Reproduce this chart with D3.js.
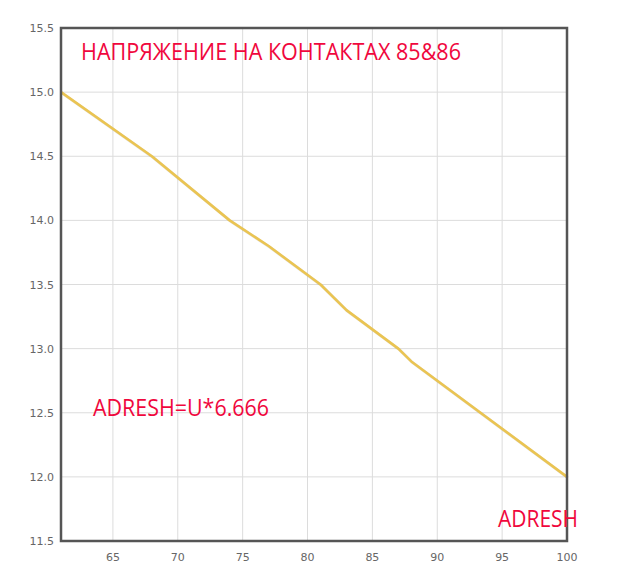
<!DOCTYPE html>
<html>
<head>
<meta charset="utf-8">
<script src="https://cdn.jsdelivr.net/npm/d3@7"></script>
<style>
  body { margin: 0; background: #fff; }
  svg { display: block; }
</style>
</head>
<body>
<svg id="chart" width="620" height="587"></svg>
<script>
// ADRESH values (x) and voltage (y)
var adresh = [61, 68, 74, 77, 81, 83, 87, 88, 100];
var voltage = [15.0, 14.5, 14.0, 13.8, 13.5, 13.3, 13.0, 12.9, 12.0];
var xTicks = [65, 70, 75, 80, 85, 90, 95, 100];
var yTicks = [11.5, 12.0, 12.5, 13.0, 13.5, 14.0, 14.5, 15.0, 15.5];
var title = "НАПРЯЖЕНИЕ НА КОНТАКТАХ 85&86";
var formula = "ADRESH=U*6.666";
var axisName = "ADRESH";

var svg = d3.select("#chart");
var plotLeft = 61, plotRight = 567, plotTop = 28, plotBottom = 541;

var x = d3.scaleLinear().domain([61, 100]).range([plotLeft, plotRight]);
var y = d3.scaleLinear().domain([11.5, 15.5]).range([plotBottom, plotTop]);

// grid
svg.append("g")
    .selectAll("line")
    .data(xTicks)
    .enter()
    .append("line")
    .attr("x1", function (d) { return x(d); })
    .attr("x2", function (d) { return x(d); })
    .attr("y1", plotTop)
    .attr("y2", plotBottom)
    .attr("stroke", "#dcdcdc")
    .attr("stroke-width", 1);

svg.append("g")
    .selectAll("line")
    .data(yTicks)
    .enter()
    .append("line")
    .attr("x1", plotLeft)
    .attr("x2", plotRight)
    .attr("y1", function (d) { return y(d); })
    .attr("y2", function (d) { return y(d); })
    .attr("stroke", "#dcdcdc")
    .attr("stroke-width", 1);

// tick labels
svg.append("g")
    .selectAll("text")
    .data(yTicks)
    .enter()
    .append("text")
    .attr("x", plotLeft - 7)
    .attr("y", function (d) { return y(d) + 4; })
    .attr("text-anchor", "end")
    .attr("font-family", "DejaVu Sans, Verdana, sans-serif")
    .attr("font-size", 11)
    .attr("fill", "#666")
    .text(function (d) { return d.toFixed(1); });

svg.append("g")
    .selectAll("text")
    .data(xTicks)
    .enter()
    .append("text")
    .attr("x", function (d) { return x(d); })
    .attr("y", plotBottom + 20)
    .attr("text-anchor", "middle")
    .attr("font-family", "DejaVu Sans, Verdana, sans-serif")
    .attr("font-size", 11)
    .attr("fill", "#666")
    .text(function (d) { return d; });

// line
var line = d3.line()
    .x(function (d, i) { return x(adresh[i]); })
    .y(function (d) { return y(d); });

svg.append("path")
    .attr("d", line(voltage))
    .attr("fill", "none")
    .attr("stroke", "#000")
    .attr("stroke-opacity", 0.1)
    .attr("stroke-width", 3)
    .attr("transform", "translate(1,1)");

svg.append("path")
    .attr("d", line(voltage))
    .attr("fill", "none")
    .attr("stroke", "#eac452")
    .attr("stroke-width", 2.6)
    .attr("stroke-linejoin", "round");

// frame
svg.append("rect")
    .attr("x", plotLeft)
    .attr("y", plotTop)
    .attr("width", plotRight - plotLeft)
    .attr("height", plotBottom - plotTop)
    .attr("fill", "none")
    .attr("stroke", "#555")
    .attr("stroke-width", 2.5);

// texts
svg.append("text")
    .attr("x", 81)
    .attr("y", 60)
    .attr("font-family", "Open Sans, sans-serif")
    .attr("font-size", 23)
    .attr("fill", "#f0073d")
    .attr("textLength", 380)
    .attr("lengthAdjust", "spacingAndGlyphs")
    .text(title);

svg.append("text")
    .attr("x", 93)
    .attr("y", 416)
    .attr("font-family", "Open Sans, sans-serif")
    .attr("font-size", 24)
    .attr("fill", "#f0073d")
    .attr("textLength", 176)
    .attr("lengthAdjust", "spacingAndGlyphs")
    .text(formula);

svg.append("text")
    .attr("x", 498)
    .attr("y", 527)
    .attr("font-family", "Open Sans, sans-serif")
    .attr("font-size", 24)
    .attr("fill", "#f0073d")
    .attr("textLength", 80)
    .attr("lengthAdjust", "spacingAndGlyphs")
    .text(axisName);
</script>
</body>
</html>
